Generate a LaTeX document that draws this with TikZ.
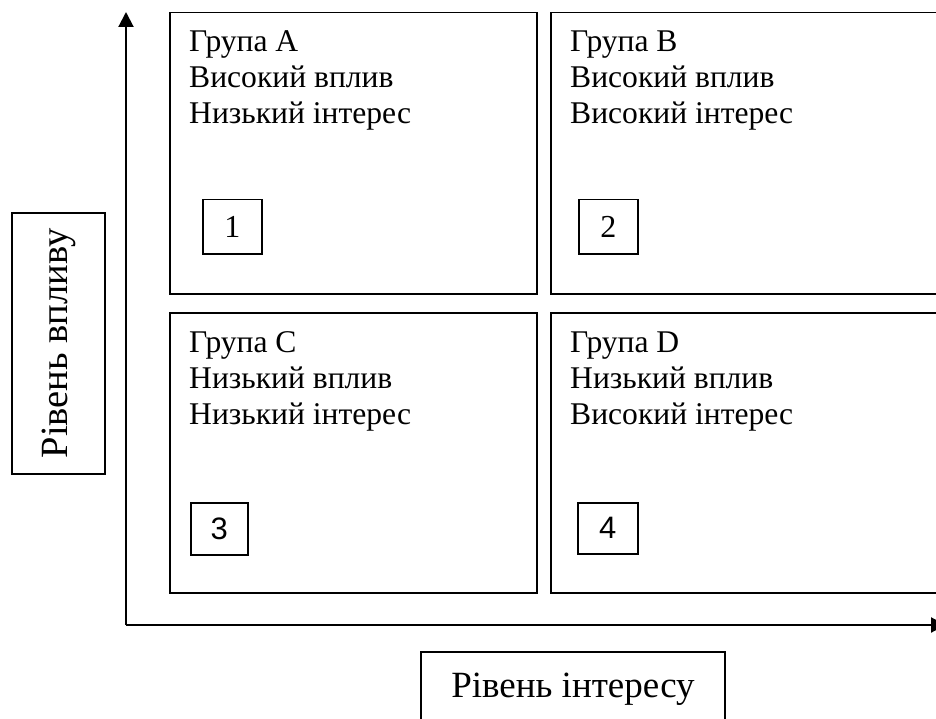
\documentclass[tikz,border=0pt]{standalone}
\usepackage{fontspec}
\setmainfont{Liberation Serif}
\newfontfamily\sansdigits{Liberation Sans}
\usetikzlibrary{arrows.meta}
\begin{document}
\begin{tikzpicture}[x=1pt,y=-1pt,
  quad/.style={draw,line width=1.5pt,rectangle,inner sep=0pt,anchor=north west},
  numbox/.style={draw,line width=1.5pt,rectangle,inner sep=0pt,anchor=north west,font=\fontsize{32}{36}\selectfont},
  txt/.style={anchor=base west,inner sep=0pt,font=\fontsize{31.6}{36}\selectfont},
  axislabel/.style={draw,line width=1.5pt,rectangle,inner sep=0pt,font=\fontsize{37}{44}\selectfont},
  axis/.style={line width=2pt,-{Triangle[length=15pt,width=15pt]}}]
\useasboundingbox (0,0) rectangle (936,719);
\clip (0,0) rectangle (936,719);
\fill[white] (0,0) rectangle (936,719);

% axes
\coordinate (o) at (126,625);
\coordinate (ytip) at (126,12);
\coordinate (xtip) at (946,625);
\draw[axis] (o) -- (ytip);
\draw[axis] (o) -- (xtip);

% quadrants
\node[quad,minimum width=367pt,minimum height=281pt] (qa) at (169,12) {};
\node[quad,minimum width=410pt,minimum height=281pt] (qb) at (550,12) {};
\node[quad,minimum width=367pt,minimum height=280pt] (qc) at (169,312) {};
\node[quad,minimum width=410pt,minimum height=280pt] (qd) at (550,312) {};

% texts
\node[txt] (a1) at (189,52) {Група A};
\node[txt] (a2) at (189,88) {Високий вплив};
\node[txt] (a3) at (189,124) {Низький інтерес};
\node[txt] (b1) at (570,52) {Група B};
\node[txt] (b2) at (570,88) {Високий вплив};
\node[txt] (b3) at (570,124) {Високий інтерес};
\node[txt] (c1) at (189,352) {Група C};
\node[txt] (c2) at (189,388) {Низький вплив};
\node[txt] (c3) at (189,424) {Низький інтерес};
\node[txt] (d1) at (570,352) {Група D};
\node[txt] (d2) at (570,388) {Низький вплив};
\node[txt] (d3) at (570,424) {Високий інтерес};

% number boxes
\node[numbox,minimum width=59pt,minimum height=54pt] (n1) at (202,199) {1};
\node[numbox,minimum width=59pt,minimum height=54pt] (n2) at (578,199) {2};
\node[numbox,minimum width=57pt,minimum height=52pt,font=\sansdigits\fontsize{31}{34}\selectfont] (n3) at (190,502) {3};
\node[numbox,minimum width=60pt,minimum height=51pt,font=\sansdigits\fontsize{31}{34}\selectfont] (n4) at (577,502) {4};

% axis labels
\node[axislabel,rotate=90,minimum width=261pt,minimum height=93pt,font=\fontsize{38.5}{44}\selectfont] (ly) at (58.5,343.5) {Рівень впливу};
\node[axislabel,anchor=base,minimum width=304pt,text height=45pt,text depth=43pt] (lx) at (573,697) {Рівень інтересу};
\end{tikzpicture}
\end{document}
